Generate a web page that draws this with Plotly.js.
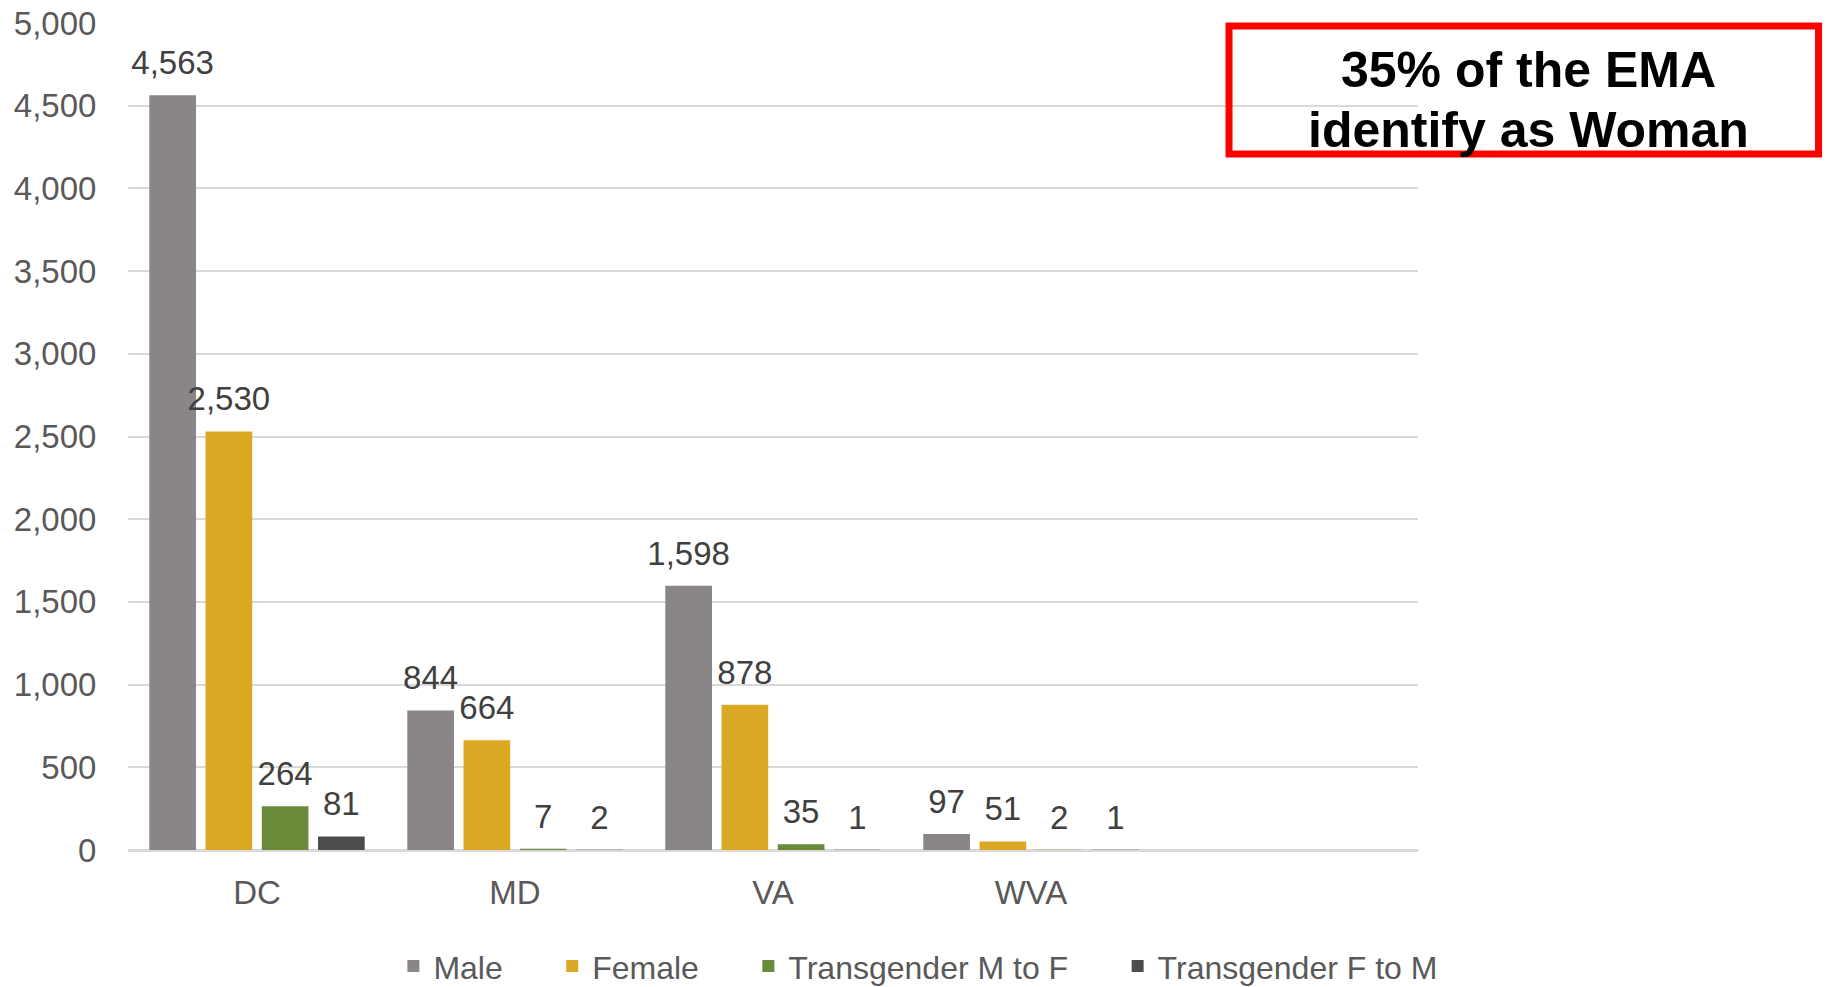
<!DOCTYPE html>
<html>
<head>
<meta charset="utf-8">
<script src="https://cdn.plot.ly/plotly-3.0.1.min.js"></script>
<style>
  html, body { margin: 0; padding: 0; background: #ffffff; }
  #chart { width: 1826px; height: 987px; }
</style>
</head>
<body>
<div id="chart"></div>
<script>
// ---- data ----
const categories = ['DC', 'MD', 'VA', 'WVA'];
const seriesNames = ['Male', 'Female', 'Transgender M to F', 'Transgender F to M'];
const male = [4563, 844, 1598, 97];
const female = [2530, 664, 878, 51];
const transMtoF = [264, 7, 35, 2];
const transFtoM = [81, 2, 1, 1];
const yTickValues = [0, 500, 1000, 1500, 2000, 2500, 3000, 3500, 4000, 4500, 5000];
const calloutLines = ['35% of the EMA', 'identify as Woman'];

// ---- styles ----
const seriesValues = [male, female, transMtoF, transFtoM];
const colors = ['#8a8588', '#dba823', '#6c8b3a', '#4d4b4c'];
const FONT = '"Liberation Sans", Arial, sans-serif';
const PAD = '\u00a0\u00a0\u00a0\u00a0\u00a0';

const traces = [];
seriesValues.forEach((vals, i) => {
  traces.push({
    type: 'bar',
    name: seriesNames[i] + PAD,
    x: categories,
    y: vals,
    offsetgroup: 'bar' + i,
    alignmentgroup: 'bars',
    marker: { color: colors[i] },
    hoverinfo: 'x+y+name'
  });
});
seriesValues.forEach((vals, i) => {
  traces.push({
    type: 'scatter',
    mode: 'markers+text',
    x: categories,
    y: vals,
    offsetgroup: 'lbl' + i,
    alignmentgroup: 'labels',
    marker: { size: 19, opacity: 0, color: colors[i] },
    texttemplate: '%{y:,}',
    textposition: 'top center',
    textfont: { family: FONT, size: 33, color: '#404040' },
    showlegend: false,
    hoverinfo: 'skip',
    cliponaxis: false
  });
});

const layout = {
  width: 1826,
  height: 987,
  paper_bgcolor: '#ffffff',
  plot_bgcolor: '#ffffff',
  margin: { l: 128, r: 408, t: 23, b: 137 },
  barmode: 'group',
  bargap: 0.128,
  bargroupgap: 0.17,
  scattermode: 'group',
  scattergap: 0.128,
  font: { family: FONT, size: 33, color: '#595959' },
  showlegend: true,
  legend: {
    orientation: 'h',
    xref: 'container',
    yref: 'container',
    x: 0.515,
    xanchor: 'center',
    y: 0.021,
    yanchor: 'middle',
    font: { family: FONT, size: 32, color: '#595959' },
    traceorder: 'normal'
  },
  xaxis: {
    type: 'category',
    categoryarray: categories,
    range: [-0.5, 4.5],
    showgrid: false,
    showline: false,
    zeroline: false,
    ticks: 'outside',
    ticklen: 13,
    tickcolor: 'rgba(0,0,0,0)',
    tickfont: { family: FONT, size: 33, color: '#595959' },
    fixedrange: true
  },
  yaxis: {
    range: [0, 5000],
    tickvals: yTickValues,
    tickformat: ',',
    showgrid: true,
    gridcolor: '#d9d9d9',
    gridwidth: 2,
    zeroline: true,
    zerolinecolor: '#d9d9d9',
    zerolinewidth: 3,
    showline: false,
    ticks: 'outside',
    ticklen: 24,
    tickcolor: 'rgba(0,0,0,0)',
    tickfont: { family: FONT, size: 33, color: '#595959' },
    fixedrange: true
  },
  shapes: [{
    type: 'rect',
    xref: 'paper', yref: 'paper',
    x0: 0.8535, x1: 1.3105,
    y0: 0.8416, y1: 0.9964,
    line: { color: '#ff0000', width: 7 },
    fillcolor: 'rgba(0,0,0,0)',
    layer: 'above'
  }],
  annotations: calloutLines.map((t, i) => ({
    xref: 'paper', yref: 'paper',
    x: 1.0853, y: i === 0 ? 0.9432 : 0.8706,
    xanchor: 'center', yanchor: 'middle',
    text: '<b>' + t + '</b>',
    showarrow: false,
    align: 'center',
    font: { family: FONT, size: 50, color: '#000000' }
  }))
};

Plotly.newPlot('chart', traces, layout, { displayModeBar: false, staticPlot: true });
</script>
</body>
</html>
